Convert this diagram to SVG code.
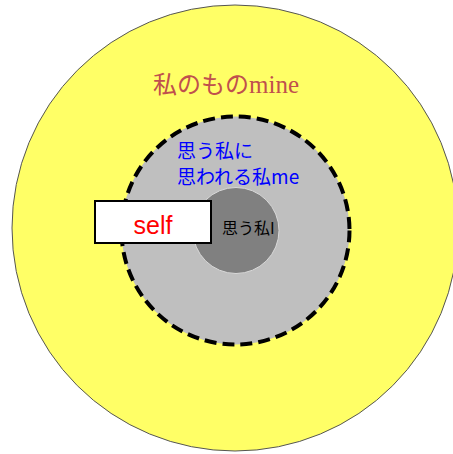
<svg xmlns="http://www.w3.org/2000/svg" width="453" height="454" viewBox="0 0 453 454">
<style>
.cjk{font-family:"Noto Sans CJK JP","Noto Sans",sans-serif;}
</style>
<rect width="453" height="454" fill="#ffffff"/>
<g id="mine">
<circle cx="235" cy="228" r="223" fill="#FFFF66" stroke="#555555" stroke-width="1"/>
<text x="153" y="93" font-size="24" fill="#C0504D"><tspan class="cjk">私のもの</tspan><tspan font-family="Liberation Serif, serif" font-size="25">mine</tspan></text>
</g>
<g id="me">
<circle cx="235.5" cy="230.5" r="114" fill="#BFBFBF" stroke="#000000" stroke-width="4" stroke-dasharray="12,6"/>
<text class="cjk" x="177" y="158" font-size="19" fill="#0000FF">思う私に</text>
<text class="cjk" x="177" y="184" font-size="19" fill="#0000FF">思われる私me</text>
</g>
<g id="I">
<circle cx="236" cy="230.5" r="43" fill="#808080" stroke="#D9D9D9" stroke-width="1"/>
<text class="cjk" x="222" y="234" font-size="16" fill="#000000">思う私I</text>
</g>
<g id="self">
<rect x="95" y="201" width="116" height="42" fill="#ffffff" stroke="#000000" stroke-width="2"/>
<text x="153" y="234" font-family="Liberation Sans, sans-serif" font-size="25" fill="#FF0000" text-anchor="middle">self</text>
</g>
</svg>
